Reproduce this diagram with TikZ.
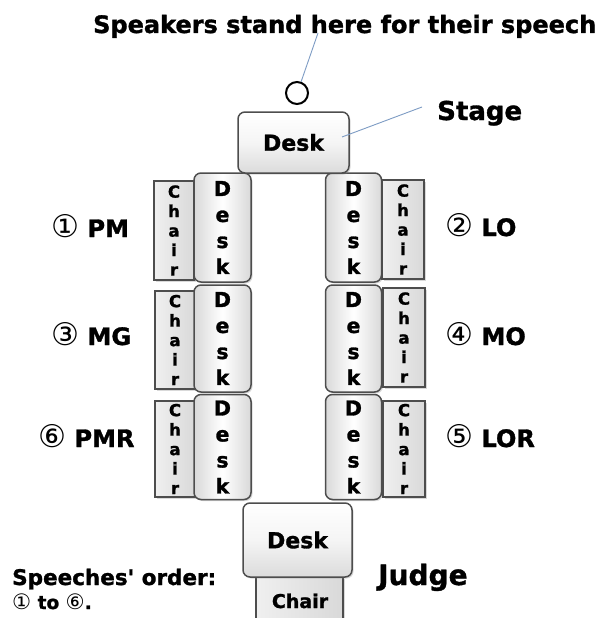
\documentclass[tikz,border=0pt]{standalone}
\usepackage{fontspec}
\setmainfont{DejaVu Sans}[Ligatures=TeXOff, BoldFeatures={FakeBold=1.3}]
\newfontfamily\circfont{DejaVu Sans}[Scale=1.3]
\newfontfamily\circsmall{DejaVu Sans}[Scale=1.15]
\usetikzlibrary{shadows}
\definecolor{edge}{HTML}{4D4D4D}
\definecolor{leadc}{HTML}{7E9CC4}
\tikzset{
  deskbox/.style={draw=edge, line width=1.5pt, rounded corners=7pt, inner sep=0pt,
    left color=gray!30, right color=gray!30, middle color=white,
    drop shadow={shadow xshift=1.5pt, shadow yshift=-1.5pt, opacity=0.3},
    font=\bfseries\fontsize{20.5}{26}\selectfont, align=center},
  hdesk/.style={deskbox, top color=white, bottom color=gray!28, middle color=gray!8,
    font=\bfseries\fontsize{22}{26}\selectfont},
  chairbox/.style={draw=edge, line width=1.5pt, inner sep=0pt,
    left color=gray!12, right color=gray!30,
    drop shadow={shadow xshift=1.5pt, shadow yshift=-1.5pt, opacity=0.3},
    font=\bfseries\fontsize{16.5}{19.5}\selectfont, align=center},
  lbl/.style={anchor=base west, inner sep=0pt, font=\bfseries\fontsize{24}{28}\selectfont},
  leader/.style={draw=leadc, line width=0.9pt},
  spot/.style={circle, draw=black, line width=2pt, minimum size=22pt, inner sep=0pt}
}
\newcommand{\vdesk}{D\\e\\s\\k}
\newcommand{\vchair}{C\\h\\a\\i\\r}
\newcommand{\cnum}[1]{{\circfont\mdseries #1}}
\newcommand{\cthin}[1]{{\circsmall\mdseries #1}}
\begin{document}
\begin{tikzpicture}[x=1pt, y=-1pt]
\useasboundingbox (0,0) rectangle (601,618);
% top text
\node[lbl] (speak) at (93,33) {Speakers stand here for their speech};
\node[spot] (circ) at (297,93) {};
% row 1
\node[chairbox, minimum width=40pt, minimum height=99pt] (c1) at (174,230.5) {\vchair};
\node[deskbox, minimum width=57pt, minimum height=109pt] (d1) at (222.5,227.5) {\vdesk};
\node[deskbox, minimum width=56pt, minimum height=109pt] (d2) at (353.5,227.5) {\vdesk};
\node[chairbox, minimum width=42pt, minimum height=99pt] (c2) at (403,229.5) {\vchair};
% row 2
\node[chairbox, minimum width=40pt, minimum height=98pt] (c3) at (175,340) {\vchair};
\node[deskbox, minimum width=57pt, minimum height=107pt] (d3) at (222.5,338.5) {\vdesk};
\node[deskbox, minimum width=56pt, minimum height=107pt] (d4) at (353.5,338.5) {\vdesk};
\node[chairbox, minimum width=42pt, minimum height=99pt] (c4) at (404,337.5) {\vchair};
% row 3
\node[chairbox, minimum width=40pt, minimum height=96pt] (c6) at (175,449) {\vchair};
\node[deskbox, minimum width=57pt, minimum height=105pt] (d6) at (222.5,447) {\vdesk};
\node[deskbox, minimum width=56pt, minimum height=105pt] (d5) at (353.5,447) {\vdesk};
\node[chairbox, minimum width=42pt, minimum height=96pt] (c5) at (404,449) {\vchair};
% stage desk
\node[hdesk, minimum width=111pt, minimum height=61pt] (sdesk) at (293.5,142.5) {Desk};
% judge
\node[chairbox, minimum width=87pt, minimum height=60pt] (jchair) at (299.5,607) {};
\node[inner sep=0pt, font=\bfseries\fontsize{19}{22}\selectfont, anchor=base] (jchairtxt) at (300,608) {Chair};
\node[hdesk, minimum width=109pt, minimum height=74pt] (jdesk) at (297.5,540) {Desk};
% labels
\node[lbl] (pm) at (51,237) {\cnum{①} PM};
\node[lbl] (lo) at (445,236) {\cnum{②} LO};
\node[lbl] (mg) at (51,345) {\cnum{③} MG};
\node[lbl] (mo) at (445,345) {\cnum{④} MO};
\node[lbl] (pmr) at (38,447) {\cnum{⑥} PMR};
\node[lbl] (lor) at (445,447) {\cnum{⑤} LOR};
\node[lbl, font=\bfseries\fontsize{26}{30}\selectfont] (stage) at (437,120) {Stage};
\node[lbl, font=\bfseries\fontsize{28}{32}\selectfont] (judge) at (378,585) {Judge};
\node[lbl, font=\bfseries\fontsize{21.5}{26}\selectfont] (order) at (12,585) {Speeches' order:};
\node[lbl, font=\bfseries\fontsize{18.5}{22}\selectfont] (order2) at (12,609) {\cthin{①} to \cthin{⑥}.};
% leaders
\coordinate (spkend) at (318,33);
\coordinate (stgin) at (342,137);
\coordinate (stgend) at (422,107);
\draw[leader] (circ.70) -- (spkend);
\draw[leader] (stgin) -- (stgend);
\end{tikzpicture}
\end{document}
